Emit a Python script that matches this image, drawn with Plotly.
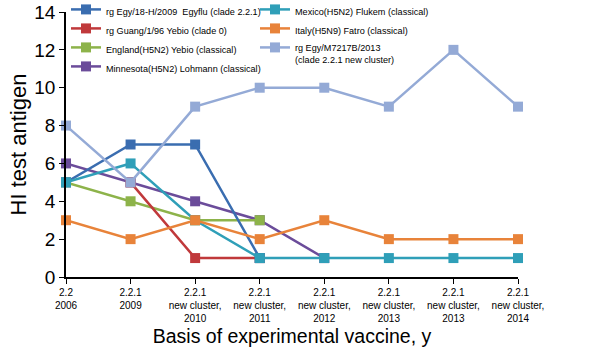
import plotly.graph_objects as go

categories = ["2.2<br>2006", "2.2.1<br>2009", "2.2.1<br>new cluster,<br>2010",
              "2.2.1<br>new cluster,<br>2011", "2.2.1<br>new cluster,<br>2012",
              "2.2.1<br>new cluster,<br>2013", "2.2.1<br>new cluster,<br>2013",
              "2.2.1<br>new cluster,<br>2014"]
x_pos = list(range(len(categories)))

egy18 = [5, 7, 7, 1, None, None, None, None]
guang = [None, 5, 1, 1, None, None, None, None]
england = [5, 4, 3, 3, None, None, None, None]
minnesota = [6, 5, 4, 3, 1, None, None, None]
mexico = [5, 6, 3, 1, 1, 1, 1, 1]
italy = [3, 2, 3, 2, 3, 2, 2, 2]
egy_m7217b = [8, 5, 9, 10, 10, 9, 12, 9]

# (name, values, colour, legend, legend rank) in drawing order
series = [
    ("Minnesota(H5N2) Lohmann (classical)", minnesota, "#6b4c9a", "legend", 4),
    ("England(H5N2) Yebio (classical)", england, "#8db34a", "legend", 3),
    ("rg Guang/1/96 Yebio (clade 0)", guang, "#c0393b", "legend", 2),
    ("rg Egy/18-H/2009  Egyflu (clade 2.2.1)", egy18, "#3a6db0", "legend", 1),
    ("Mexico(H5N2) Flukem (classical)", mexico, "#2f9fb8", "legend2", 1),
    ("Italy(H5N9) Fatro (classical)", italy, "#e8833a", "legend2", 2),
    ("rg Egy/M7217B/2013<br>(clade 2.2.1 new cluster)", egy_m7217b, "#94aad6", "legend2", 3),
]

fig = go.Figure()
for name, vals, col, leg, rank in series:
    fig.add_trace(go.Scatter(
        x=x_pos, y=vals, name=name, mode="lines+markers",
        line=dict(color=col, width=2.5),
        marker=dict(symbol="square", size=10, color=col),
        legend=leg, legendrank=rank, connectgaps=False, cliponaxis=False,
    ))

font = "Liberation Sans, Arial, sans-serif"
leg_common = dict(
    orientation="v", xanchor="left", yanchor="top", valign="top",
    font=dict(size=9.1, family=font), bgcolor="rgba(0,0,0,0)",
    itemwidth=30, tracegroupgap=0,
)
W, H = 600, 355
L, T, B, R = 66, 12, 78, 82
pw, ph = W - L - R, H - T - B
fig.update_layout(
    width=W, height=H,
    margin=dict(l=L, r=R, t=T, b=B, autoexpand=False),
    paper_bgcolor="white", plot_bgcolor="white",
    font=dict(family=font, color="black"),
    showlegend=True,
    legend=dict(x=0.0, y=1 + (T + 3) / ph, **leg_common),
    legend2=dict(x=(255 - 66) / pw, y=1 + (T + 3) / ph, **leg_common),
    xaxis=dict(
        range=[0, 7], tickmode="array", tickvals=x_pos, ticktext=categories,
        showline=True, linecolor="black", linewidth=1.5,
        ticks="outside", ticklen=5, tickcolor="black",
        tickfont=dict(size=10), showgrid=False, zeroline=False,
        title=dict(text="Basis of experimental vaccine, y", font=dict(size=19.5), standoff=7),
    ),
    yaxis=dict(
        range=[0, 14], tickvals=[0, 2, 4, 6, 8, 10, 12, 14],
        showline=True, linecolor="black", linewidth=1.5,
        ticks="outside", ticklen=5, tickcolor="black",
        tickfont=dict(size=19), showgrid=False, zeroline=False,
        ticklabeloverflow="allow",
        title=dict(text="HI test antigen", font=dict(size=22), standoff=2),
    ),
)

fig.write_html("out.html", config={"displayModeBar": False},
               post_script="document.body.style.margin='0';")
